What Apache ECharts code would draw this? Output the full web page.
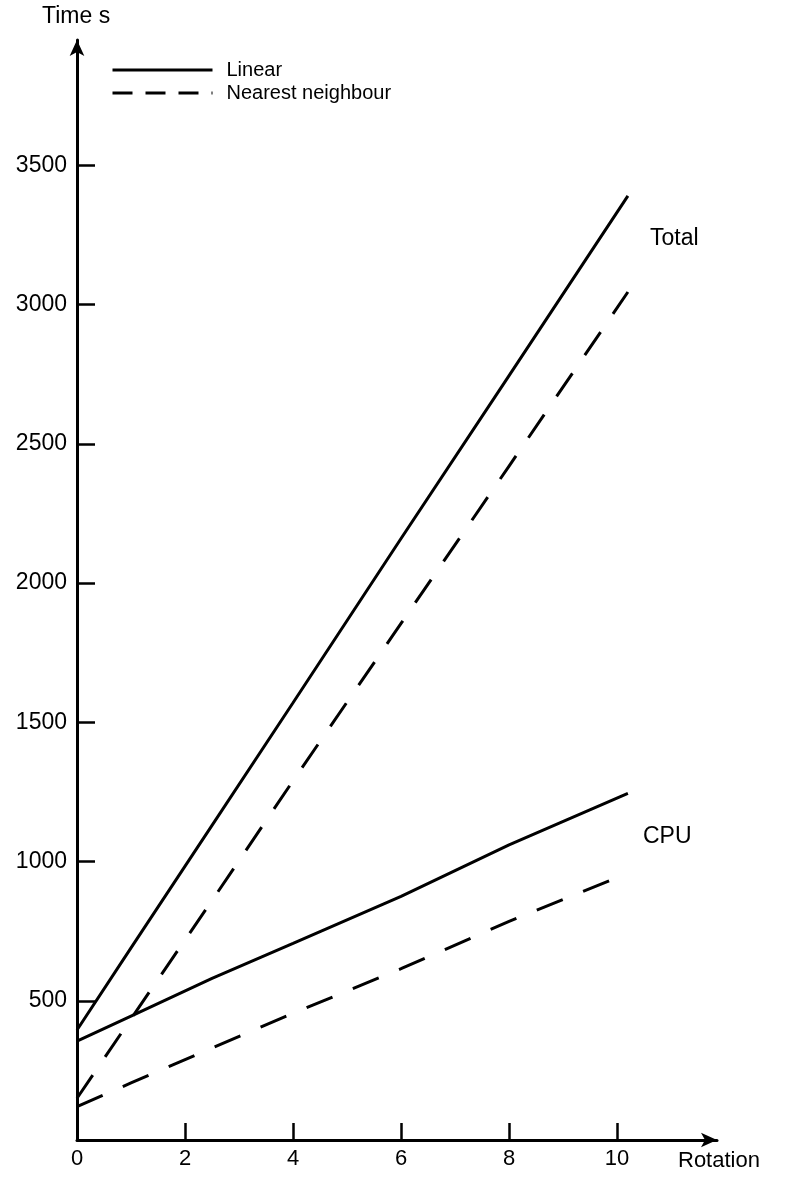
<!DOCTYPE html>
<html>
<head>
<meta charset="utf-8">
<script src="https://cdn.jsdelivr.net/npm/echarts@6/dist/echarts.min.js"></script>
<style>
html,body{margin:0;padding:0;background:#fff;}
#chart{width:792px;height:1181px;}
</style>
</head>
<body>
<div id="chart"></div>
<script>
// Data
const rotation = [0, 1, 2.5, 4, 6, 8, 10.2];
const totalLinear = [395, 690, 1130, 1570, 2160, 2745, 3390];
const totalNearest = [150, 435, 860, 1290, 1855, 2420, 3045];
const cpuLinear = [355, 445, 580, 706, 875, 1060, 1245];
const cpuNearest = [120, 205, 330, 455, 615, 785, 958];
const xTickLabels = [0, 2, 4, 6, 8, 10];
const yTickLabels = [500, 1000, 1500, 2000, 2500, 3000, 3500];
const seriesNames = ['Linear', 'Nearest neighbour'];

const pairs = (xs, ys) => xs.map((x, i) => [x, ys[i]]);
const font = 'Liberation Sans';
const dash = [28, 22];

const chart = echarts.init(document.getElementById('chart'), null, {renderer: 'canvas'});
const lineBase = {type: 'line', symbol: 'none', showSymbol: false, silent: true, animation: false};

chart.setOption({
  animation: false,
  backgroundColor: '#fff',
  grid: {left: 77, right: 75, top: 40, bottom: 41, containLabel: false},
  legend: {
    show: true,
    orient: 'vertical', left: 106, top: 55, itemWidth: 100, itemHeight: 14, itemGap: 3,
    itemStyle: {color: 'transparent', borderWidth: 0, opacity: 0},
    lineStyle: {width: 3, color: '#000'},
    textStyle: {fontFamily: font, fontSize: 20, color: '#000', padding: [0, 0, 0, 9]},
    data: [
      {name: seriesNames[0]},
      {name: seriesNames[1], lineStyle: {type: [20, 13], width: 3, color: '#000'}}
    ],
    selectedMode: false
  },
  xAxis: {
    type: 'value', min: 0, max: 11.85,
    splitLine: {show: false},
    axisLine: {lineStyle: {color: '#000', width: 3}, symbol: ['none', 'arrow'], symbolSize: [11, 16]},
    axisTick: {inside: true, length: 17, lineStyle: {color: '#000', width: 2.5}, customValues: [2, 4, 6, 8, 10]},
    axisLabel: {customValues: xTickLabels, color: '#000', fontFamily: font, fontSize: 22, margin: 8}
  },
  yAxis: {
    type: 'value', min: 0, max: 3950,
    splitLine: {show: false},
    axisLine: {lineStyle: {color: '#000', width: 3}, symbol: ['none', 'arrow'], symbolSize: [11, 16]},
    axisTick: {inside: true, length: 18, lineStyle: {color: '#000', width: 2.5}, customValues: yTickLabels},
    axisLabel: {customValues: yTickLabels, formatter: v => String(v), color: '#000', fontFamily: font, fontSize: 23, margin: 10}
  },
  series: [
    Object.assign({}, lineBase, {name: seriesNames[0], data: pairs(rotation, totalLinear), lineStyle: {color: '#000', width: 3, type: 'solid'}, itemStyle: {color: '#000'}}),
    Object.assign({}, lineBase, {name: seriesNames[1], data: pairs(rotation, totalNearest), lineStyle: {color: '#000', width: 3, type: dash}, itemStyle: {color: '#000'}}),
    Object.assign({}, lineBase, {name: seriesNames[0], data: pairs(rotation, cpuLinear), lineStyle: {color: '#000', width: 3, type: 'solid'}, itemStyle: {color: '#000'}}),
    Object.assign({}, lineBase, {name: seriesNames[1], data: pairs(rotation, cpuNearest), lineStyle: {color: '#000', width: 3, type: dash}, itemStyle: {color: '#000'}})
  ],
  graphic: [
    {type: 'text', left: 42, top: 5, style: {text: 'Time s', fontFamily: font, fontSize: 23, fill: '#000'}},
    {type: 'text', left: 678, top: 1150, style: {text: 'Rotation', fontFamily: font, fontSize: 22, fill: '#000'}},
    {type: 'text', left: 650, top: 227, style: {text: 'Total', fontFamily: font, fontSize: 23, fill: '#000'}},
    {type: 'text', left: 643, top: 825, style: {text: 'CPU', fontFamily: font, fontSize: 23, fill: '#000'}}
  ]
});
</script>
</body>
</html>
